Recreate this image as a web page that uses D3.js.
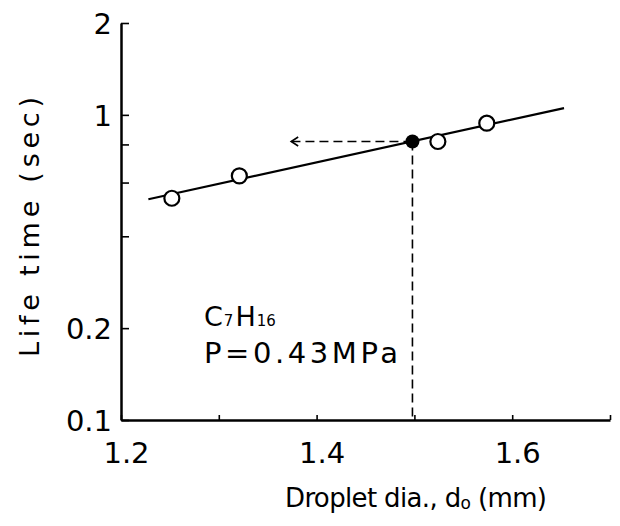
<!DOCTYPE html>
<html>
<head>
<meta charset="utf-8">
<title>Life time vs droplet diameter</title>
<script src="https://cdn.jsdelivr.net/npm/d3@7"></script>
<style>
  body { margin: 0; background: #fff; }
  text { font-family: "DejaVu Sans", sans-serif; fill: #000; }
</style>
</head>
<body>
<script>
// data
var xTickValues = [1.2, 1.3, 1.4, 1.5, 1.6, 1.7];
var xTickLabels = ["1.2", "", "1.4", "", "1.6", ""];
var yTickValues = [0.1, 0.2, 0.4, 0.6, 0.8, 1, 2];
var yTickLabels = ["0.1", "0.2", "", "", "", "1", "2"];

var openDia  = [1.252, 1.321, 1.524, 1.574];
var openLife = [0.533, 0.631, 0.818, 0.939];
var filledDia  = [1.498];
var filledLife = [0.818];
var fitDia  = [1.228, 1.653];
var fitLife = [0.529, 1.052];
var arrowEndDia = 1.374;

var W = 620, H = 526;

var x = d3.scaleLinear().domain([1.2, 1.7]).range([121, 610]);
var y = d3.scaleLog().domain([0.1, 2]).range([420, 23]);

var svg = d3.select("body").append("svg")
  .attr("width", W).attr("height", H);

// arrow head marker (open "<")
svg.append("defs").append("marker")
  .attr("id", "arr")
  .attr("viewBox", "-9 -6 11 12")
  .attr("refX", 0).attr("refY", 0)
  .attr("markerWidth", 11).attr("markerHeight", 12)
  .attr("markerUnits", "userSpaceOnUse")
  .attr("orient", "auto")
  .append("path")
  .attr("d", "M-7,-4.5L0,0L-7,4.5")
  .attr("fill", "none").attr("stroke", "#000")
  .attr("stroke-width", 1.6).attr("stroke-dasharray", "none");

// axes
var xAxis = d3.axisBottom(x)
  .tickValues(xTickValues)
  .tickSizeInner(-5).tickSizeOuter(0)
  .tickPadding(22)
  .tickFormat(function(d, i) { return xTickLabels[i]; });

var yAxis = d3.axisLeft(y)
  .tickValues(yTickValues)
  .tickSizeInner(-8).tickSizeOuter(0)
  .tickPadding(9)
  .tickFormat(function(d, i) { return yTickLabels[i]; });

var gx = svg.append("g")
  .attr("transform", "translate(0," + y(0.1) + ")")
  .call(xAxis);
var gy = svg.append("g")
  .attr("transform", "translate(" + x(1.2) + ",0)")
  .call(yAxis);

[gx, gy].forEach(function(g) {
  g.select(".domain").attr("stroke", "#000").attr("stroke-width", 2.5);
  g.selectAll(".tick line").attr("stroke", "#000").attr("stroke-width", 1.6);
  g.selectAll(".tick text").attr("font-family", "DejaVu Sans").attr("font-size", 29).attr("fill", "#000");
});
gx.selectAll(".tick text").attr("dx", 5);
gy.selectAll(".tick text").attr("dy", "0.36em");

// fitted line
var line = d3.line()
  .x(function(d) { return x(d[0]); })
  .y(function(d) { return y(d[1]); });

svg.append("path")
  .datum(d3.zip(fitDia, fitLife))
  .attr("d", line)
  .attr("fill", "none").attr("stroke", "#000").attr("stroke-width", 2.2);

// dashed guide lines
svg.append("line")
  .attr("x1", x(filledDia[0])).attr("y1", y(filledLife[0]))
  .attr("x2", x(filledDia[0])).attr("y2", y(0.1))
  .attr("stroke", "#000").attr("stroke-width", 1.6)
  .attr("stroke-dasharray", "9,5");

svg.append("line")
  .attr("x1", x(filledDia[0])).attr("y1", y(filledLife[0]))
  .attr("x2", x(arrowEndDia)).attr("y2", y(filledLife[0]))
  .attr("stroke", "#000").attr("stroke-width", 1.6)
  .attr("stroke-dasharray", "9,5")
  .attr("marker-end", "url(#arr)");

// points
svg.selectAll("circle.open")
  .data(d3.zip(openDia, openLife))
  .enter().append("circle")
  .attr("class", "open")
  .attr("cx", function(d) { return x(d[0]); })
  .attr("cy", function(d) { return y(d[1]); })
  .attr("r", 7.5)
  .attr("fill", "#fff").attr("stroke", "#000").attr("stroke-width", 2.2);

svg.selectAll("circle.filled")
  .data(d3.zip(filledDia, filledLife))
  .enter().append("circle")
  .attr("class", "filled")
  .attr("cx", function(d) { return x(d[0]); })
  .attr("cy", function(d) { return y(d[1]); })
  .attr("r", 7)
  .attr("fill", "#000");

// annotation
var t1 = svg.append("text")
  .attr("x", 204).attr("y", 326)
  .attr("font-size", 27);
t1.append("tspan").text("C");
t1.append("tspan").attr("font-size", 15).attr("dx", 1).text("7");
t1.append("tspan").attr("dx", 2).text("H");
t1.append("tspan").attr("font-size", 15).attr("dx", 1).text("16");

svg.append("text")
  .attr("x", 204).attr("y", 363)
  .attr("font-size", 29)
  .attr("textLength", 194).attr("lengthAdjust", "spacing")
  .text("P=0.43MPa");

// axis titles
var xt = svg.append("text")
  .attr("x", 416).attr("y", 507)
  .attr("text-anchor", "middle")
  .attr("font-size", 26)
  .attr("textLength", 262).attr("lengthAdjust", "spacing");
xt.append("tspan").text("Droplet dia., d");
xt.append("tspan").attr("font-size", 17).attr("dy", 2).text("o");
xt.append("tspan").attr("dy", -2).text(" (mm)");

svg.append("text")
  .attr("transform", "translate(39,227) rotate(-90)")
  .attr("text-anchor", "middle")
  .attr("font-size", 27)
  .attr("textLength", 260).attr("lengthAdjust", "spacing")
  .text("Life time (sec)");
</script>
</body>
</html>
